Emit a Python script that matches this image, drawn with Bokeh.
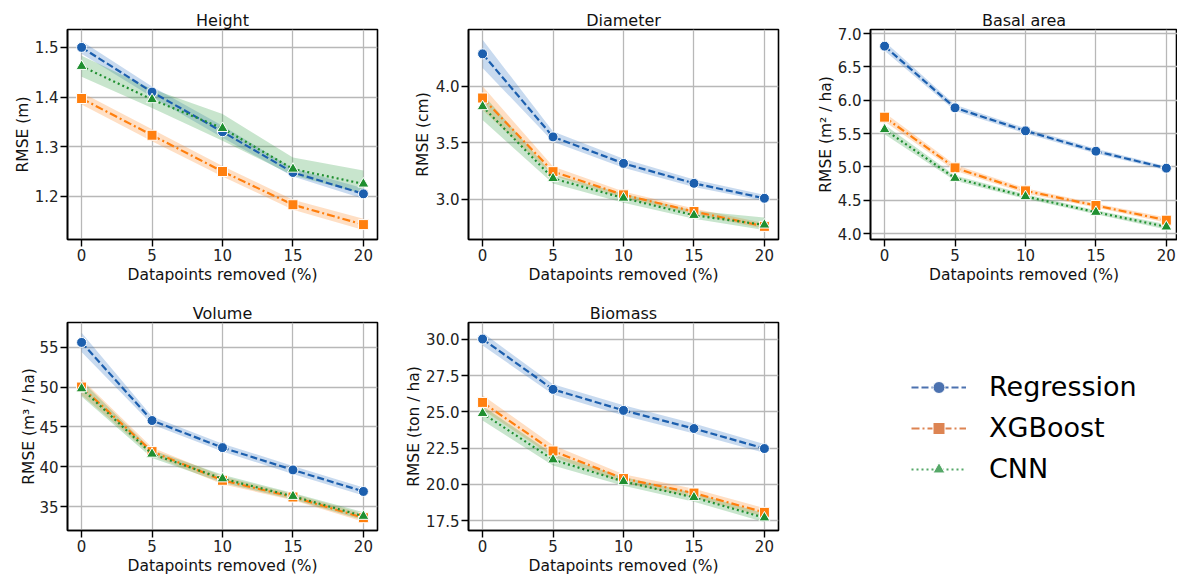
from bokeh.plotting import figure
from bokeh.layouts import column, row
from bokeh.models import Range1d, FixedTicker, NumeralTickFormatter, Legend, LegendItem
from bokeh.embed import file_html
from bokeh.resources import INLINE

# ---------------- data ----------------
removed = [0, 5, 10, 15, 20]
x_ticks = [0, 5, 10, 15, 20]
models = ["Regression", "XGBoost", "CNN"]

# Height (m)
height_reg = [1.500, 1.410, 1.330, 1.248, 1.205]
height_reg_lo = [1.487, 1.400, 1.318, 1.240, 1.195]
height_reg_hi = [1.513, 1.421, 1.342, 1.256, 1.216]
height_xgb = [1.397, 1.323, 1.250, 1.183, 1.143]
height_xgb_lo = [1.385, 1.311, 1.240, 1.173, 1.132]
height_xgb_hi = [1.409, 1.335, 1.261, 1.193, 1.155]
height_cnn = [1.462, 1.395, 1.337, 1.255, 1.225]
height_cnn_lo = [1.441, 1.378, 1.312, 1.242, 1.205]
height_cnn_hi = [1.483, 1.416, 1.366, 1.278, 1.252]
height_yticks = [1.2, 1.3, 1.4, 1.5]

# Diameter (cm)
diam_reg = [4.285, 3.552, 3.318, 3.142, 3.010]
diam_reg_lo = [4.16, 3.51, 3.28, 3.11, 2.985]
diam_reg_hi = [4.41, 3.60, 3.36, 3.175, 3.04]
diam_xgb = [3.895, 3.245, 3.040, 2.893, 2.762]
diam_xgb_lo = [3.79, 3.21, 3.01, 2.87, 2.74]
diam_xgb_hi = [4.00, 3.29, 3.07, 2.92, 2.79]
diam_cnn = [3.820, 3.185, 3.012, 2.860, 2.775]
diam_cnn_lo = [3.70, 3.14, 2.97, 2.83, 2.73]
diam_cnn_hi = [3.93, 3.22, 3.05, 2.90, 2.84]
diam_yticks = [3.0, 3.5, 4.0]

# Basal area (m2/ha)
basal_reg = [6.81, 5.885, 5.54, 5.235, 4.98]
basal_reg_lo = [6.74, 5.84, 5.50, 5.20, 4.95]
basal_reg_hi = [6.88, 5.93, 5.58, 5.27, 5.01]
basal_xgb = [5.745, 4.985, 4.64, 4.42, 4.20]
basal_xgb_lo = [5.68, 4.94, 4.60, 4.39, 4.16]
basal_xgb_hi = [5.81, 5.03, 4.68, 4.45, 4.24]
basal_cnn = [5.56, 4.83, 4.555, 4.32, 4.10]
basal_cnn_lo = [5.49, 4.79, 4.52, 4.29, 4.06]
basal_cnn_hi = [5.63, 4.87, 4.59, 4.35, 4.14]
basal_yticks = [4.0, 4.5, 5.0, 5.5, 6.0, 6.5, 7.0]

# Volume (m3/ha)
vol_reg = [55.6, 45.8, 42.4, 39.6, 36.9]
vol_reg_lo = [54.4, 45.3, 41.9, 39.1, 36.4]
vol_reg_hi = [56.8, 46.3, 42.9, 40.1, 37.4]
vol_xgb = [50.0, 41.9, 38.3, 36.2, 33.6]
vol_xgb_lo = [49.0, 41.4, 37.8, 35.8, 33.1]
vol_xgb_hi = [51.0, 42.4, 38.8, 36.6, 34.1]
vol_cnn = [49.8, 41.6, 38.5, 36.3, 33.8]
vol_cnn_lo = [48.8, 41.1, 38.0, 35.9, 33.3]
vol_cnn_hi = [50.8, 42.1, 39.0, 36.7, 34.3]
vol_yticks = [35, 40, 45, 50, 55]

# Biomass (ton/ha)
bio_reg = [30.02, 26.55, 25.1, 23.85, 22.47]
bio_reg_lo = [29.57, 26.2, 24.75, 23.5, 22.17]
bio_reg_hi = [30.47, 26.9, 25.45, 24.2, 22.77]
bio_xgb = [25.65, 22.3, 20.4, 19.4, 18.07]
bio_xgb_lo = [25.15, 21.9, 20.1, 19.1, 17.77]
bio_xgb_hi = [26.15, 22.7, 20.7, 19.7, 18.37]
bio_cnn = [24.9, 21.7, 20.2, 19.1, 17.7]
bio_cnn_lo = [24.4, 21.3, 19.9, 18.8, 17.4]
bio_cnn_hi = [25.4, 22.1, 20.5, 19.4, 18.0]
bio_yticks = [17.5, 20.0, 22.5, 25.0, 27.5, 30.0]

# ---------------- styles ----------------
FONT = "DejaVu Sans"
line_colors = ["#1c5fae", "#ff7f0e", "#1f8f30"]
band_colors = ["#3b7bc4", "#ff8c2a", "#3aa34a"]
legend_colors = ["#4c72b0", "#dd8452", "#55a868"]
dashes = ["7 3", "8 3 2 3", "2 3"]
markers = ["circle", "square", "triangle"]
msizes = [10, 10, 11]
XLABEL = "Datapoints removed (%)"


def make_panel(title, ylabel, series, yr, yticks, fmt, width, height,
               bl, br, bt, bb, xr, ylab_standoff):
    p = figure(width=width, height=height, x_range=Range1d(*xr), y_range=Range1d(*yr),
               output_backend="svg", toolbar_location=None,
               min_border_left=bl, min_border_right=br, min_border_top=bt, min_border_bottom=bb)
    p.title.text = title
    p.title.align = "center"
    p.title.text_font = FONT
    p.title.text_font_size = "16px"
    p.title.text_font_style = "normal"
    p.title.text_color = "#111111"
    p.title.standoff = -1
    p.outline_line_color = "black"
    p.outline_line_width = 1.6
    p.outline_line_alpha = 1.0
    p.background_fill_color = "white"

    p.xaxis.ticker = FixedTicker(ticks=x_ticks)
    p.yaxis.ticker = FixedTicker(ticks=yticks)
    p.yaxis.formatter = NumeralTickFormatter(format=fmt)
    p.xaxis.formatter = NumeralTickFormatter(format="0")
    for ax in (p.xaxis, p.yaxis):
        ax.axis_line_color = "black"
        ax.axis_line_width = 1.6
        ax.major_tick_out = 7
        ax.major_tick_in = 0
        ax.major_tick_line_width = 1.4
        ax.minor_tick_out = 0
        ax.minor_tick_in = 0
        ax.major_label_text_font = FONT
        ax.major_label_text_font_size = "15px"
        ax.major_label_text_color = "#222222"
        ax.major_label_standoff = 2
        ax.axis_label_text_font = FONT
        ax.axis_label_text_font_size = "15.5px"
        ax.axis_label_text_font_style = "normal"
        ax.axis_label_text_color = "#111111"
    p.xaxis.axis_label = XLABEL
    p.xaxis.axis_label_standoff = 2
    p.yaxis.axis_label = ylabel
    p.yaxis.axis_label_standoff = ylab_standoff

    for g in (p.xgrid, p.ygrid):
        g.grid_line_color = "#b8b8b8"
        g.grid_line_width = 1.3
    p.xgrid.ticker = FixedTicker(ticks=x_ticks)
    p.ygrid.ticker = FixedTicker(ticks=yticks)

    for i, (mean, lo, hi) in enumerate(series):
        p.varea(x=removed, y1=lo, y2=hi, fill_color=band_colors[i], fill_alpha=0.28)
    for i, (mean, lo, hi) in enumerate(series):
        p.line(removed, mean, line_color=line_colors[i], line_width=2.2, line_dash=dashes[i])
        p.scatter(removed, mean, marker=markers[i], size=msizes[i],
                  fill_color=line_colors[i], line_color="white", line_width=1)
    return p


XR = (-1.0, 21.0)
XR3 = (-1.0, 20.79)

p1 = make_panel("Height", "RMSE (m)",
                [(height_reg, height_reg_lo, height_reg_hi),
                 (height_xgb, height_xgb_lo, height_xgb_hi),
                 (height_cnn, height_cnn_lo, height_cnn_hi)],
                (1.113, 1.536), height_yticks, "0.0", 400, 290, 67, 23, 29, 51, XR, 0)
p2 = make_panel("Diameter", "RMSE (cm)",
                [(diam_reg, diam_reg_lo, diam_reg_hi),
                 (diam_xgb, diam_xgb_lo, diam_xgb_hi),
                 (diam_cnn, diam_cnn_lo, diam_cnn_hi)],
                (2.646, 4.50), diam_yticks, "0.0", 400, 290, 68, 22, 29, 51, XR, 1)
p3 = make_panel("Basal area", "RMSE (m\u00b2 / ha)",
                [(basal_reg, basal_reg_lo, basal_reg_hi),
                 (basal_xgb, basal_xgb_lo, basal_xgb_hi),
                 (basal_cnn, basal_cnn_lo, basal_cnn_hi)],
                (3.91, 7.06), basal_yticks, "0.0", 377, 290, 70, 0, 29, 51, XR3, 0)
p4 = make_panel("Volume", "RMSE (m\u00b3 / ha)",
                [(vol_reg, vol_reg_lo, vol_reg_hi),
                 (vol_xgb, vol_xgb_lo, vol_xgb_hi),
                 (vol_cnn, vol_cnn_lo, vol_cnn_hi)],
                (32.0, 58.1), vol_yticks, "0", 400, 287, 67, 23, 32, 47, XR, -2)
p5 = make_panel("Biomass", "RMSE (ton / ha)",
                [(bio_reg, bio_reg_lo, bio_reg_hi),
                 (bio_xgb, bio_xgb_lo, bio_xgb_hi),
                 (bio_cnn, bio_cnn_lo, bio_cnn_hi)],
                (16.82, 31.16), bio_yticks, "0.0", 400, 287, 68, 22, 32, 47, XR, 0)

# legend panel
leg = figure(width=377, height=287, x_range=Range1d(0, 1), y_range=Range1d(0, 1),
             x_axis_type=None, y_axis_type=None, output_backend="svg",
             toolbar_location=None, min_border=0)
leg.outline_line_color = None
items = []
for i, name in enumerate(models):
    rl = leg.line(x=[-5, -4], y=[-5, -5], line_color=legend_colors[i], line_width=2.2,
                  line_dash=dashes[i])
    rm = leg.scatter(x=[-5], y=[-5], marker=markers[i], size=msizes[i] - 1,
                     fill_color=legend_colors[i], line_color="white", line_width=1)
    items.append(LegendItem(label=name, renderers=[rl, rm]))
legend = Legend(items=items, location=(111, 46), glyph_width=55, glyph_height=30,
                label_standoff=23, spacing=10, padding=0, margin=0,
                label_text_font=FONT, label_text_font_size="27px", label_text_color="black",
                border_line_alpha=0, background_fill_alpha=0)
leg.add_layout(legend)

layout = column(row(p1, p2, p3), row(p4, p5, leg))

open("out.html", "w").write(file_html(layout, INLINE))
